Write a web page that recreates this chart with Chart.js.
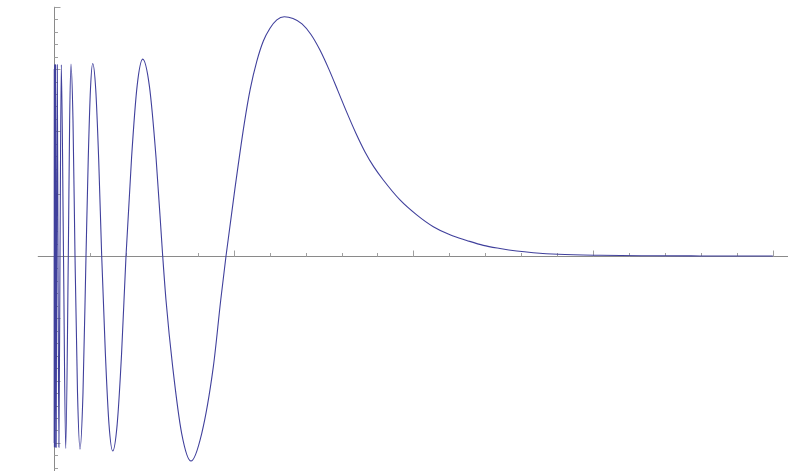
<!DOCTYPE html>
<html>
<head>
<meta charset="utf-8">
<script src="https://cdn.jsdelivr.net/npm/chart.js@4/dist/chart.umd.min.js"></script>
<style>
    html, body { margin: 0; padding: 0; background: #fff; }
    #wrap { width: 788px; height: 471px; position: relative; }
</style>
</head>
<body>
<div id="wrap"><canvas id="plot"></canvas></div>
<script>
// x / y values (x in axis units, major tick = 1)
const xValues = [
    0.0009, 0.0011, 0.0013, 0.0016, 0.0020, 0.0024, 0.0029, 0.0036, 0.0044, 0.0054,
    0.0066, 0.0081, 0.0099, 0.0121, 0.0148, 0.0182, 0.0223, 0.0273, 0.0334, 0.0406,
    0.0529, 0.0651, 0.0796, 0.0871, 0.0946, 0.1057, 0.1169, 0.1308, 0.1447, 0.1614,
    0.1781, 0.1905, 0.2030, 0.2154, 0.2321, 0.2487, 0.2654, 0.2859, 0.3062, 0.3267,
    0.3513, 0.3760, 0.4007, 0.4317, 0.4626, 0.4936, 0.5307, 0.5678, 0.6049, 0.6233,
    0.6605, 0.7106, 0.7624, 0.8219, 0.8865, 0.9277, 0.9572, 1.0072, 1.059, 1.092,
    1.128, 1.165, 1.202, 1.240, 1.2816, 1.330, 1.380, 1.430, 1.480, 1.530,
    1.580, 1.630, 1.680, 1.730, 1.780, 1.8325, 1.9254, 2.0184, 2.1107, 2.2037,
    2.2966, 2.389, 2.4819, 2.5748, 2.6672, 2.8063, 3.0384, 3.3166, 3.5948, 4.0
];
const yValues = [
    0, -3.0, 0, 3.0, 0, -3.07, 0, 3.07, 0, -3.07,
    0, 3.07, 0, -3.07, 0, 3.07, 0, -3.07, 0, 3.07,
    0, -3.09, 0, 2.18, 3.08, 2.18, 0, -2.19, -3.10, -2.19,
    0, 1.55, 2.68, 3.09, 2.68, 1.55, 0, -1.57, -2.71, -3.13,
    -2.71, -1.57, 0, 1.58, 2.73, 3.16, 2.73, 1.58, 0, -0.71,
    -1.78, -2.85, -3.29, -2.85, -1.78, -0.71, 0, 1.09, 2.13, 2.68,
    3.12, 3.45, 3.655, 3.79, 3.84, 3.811, 3.726, 3.556, 3.306, 2.996,
    2.651, 2.301, 1.971, 1.675, 1.43, 1.22, 0.90, 0.66, 0.47, 0.34,
    0.25, 0.17, 0.12, 0.08, 0.053, 0.027, 0.011, 0.004, 0.001, 0
];

// axis ticks (no labels in the original)
const xMajorTicks = [1, 2, 3, 4];
const yMajorTicks = [-3, -2, -1, 1, 2, 3, 4];
const tickStep = 0.2;
const xTickRange = [0.2, 4.0];
const yTickRange = [-3.4, 4.0];

const axesPlugin = {
    id: 'mmaAxes',
    beforeDatasetsDraw(chart) {
        const ctx = chart.ctx;
        const xs = chart.scales.x;
        const ys = chart.scales.y;
        const x0 = Math.round(xs.getPixelForValue(0)) + 0.5;
        const y0 = Math.round(ys.getPixelForValue(0)) + 0.5;

        ctx.save();
        ctx.lineWidth = 1;

        // axis lines
        ctx.strokeStyle = '#8a8a8a';
        ctx.beginPath();
        ctx.moveTo(xs.getPixelForValue(-0.09), y0);
        ctx.lineTo(chart.width, y0);
        ctx.moveTo(x0, ys.getPixelForValue(4.0));
        ctx.lineTo(x0, chart.height);
        ctx.stroke();

        // ticks
        ctx.strokeStyle = '#a0a0a0';
        ctx.beginPath();
        const nx = Math.round((xTickRange[1] - xTickRange[0]) / tickStep);
        for (let i = 0; i <= nx; i++) {
            const v = +(xTickRange[0] + i * tickStep).toFixed(2);
            const major = xMajorTicks.includes(v);
            const px = Math.round(xs.getPixelForValue(v)) + 0.5;
            ctx.moveTo(px, y0);
            ctx.lineTo(px, y0 - (major ? 6 : 3.5));
        }
        const ny = Math.round((yTickRange[1] - yTickRange[0]) / tickStep);
        for (let i = 0; i <= ny; i++) {
            const v = +(yTickRange[0] + i * tickStep).toFixed(2);
            if (Math.abs(v) < 1e-9) continue;
            const major = yMajorTicks.includes(v);
            const py = Math.round(ys.getPixelForValue(v)) + 0.5;
            ctx.moveTo(x0, py);
            ctx.lineTo(x0 + (major ? 6 : 3.5), py);
        }
        ctx.stroke();
        ctx.restore();
    }
};

const points = xValues.map((x, i) => ({ x: x, y: yValues[i] }));

new Chart(document.getElementById('plot').getContext('2d'), {
    type: 'line',
    data: {
        datasets: [{
            data: points,
            borderColor: '#40409c',
            borderWidth: 1.1,
            pointRadius: 0,
            fill: false,
            cubicInterpolationMode: 'monotone'
        }]
    },
    options: {
        responsive: true,
        maintainAspectRatio: false,
        animation: false,
        layout: { padding: 0 },
        plugins: {
            legend: { display: false },
            tooltip: { enabled: false }
        },
        scales: {
            x: { type: 'linear', display: false, min: -54 / 179.7, max: (788 - 54) / 179.7 },
            y: { type: 'linear', display: false, min: (256 - 471) / 62.3, max: 256 / 62.3 }
        }
    },
    plugins: [axesPlugin]
});
</script>
</body>
</html>
